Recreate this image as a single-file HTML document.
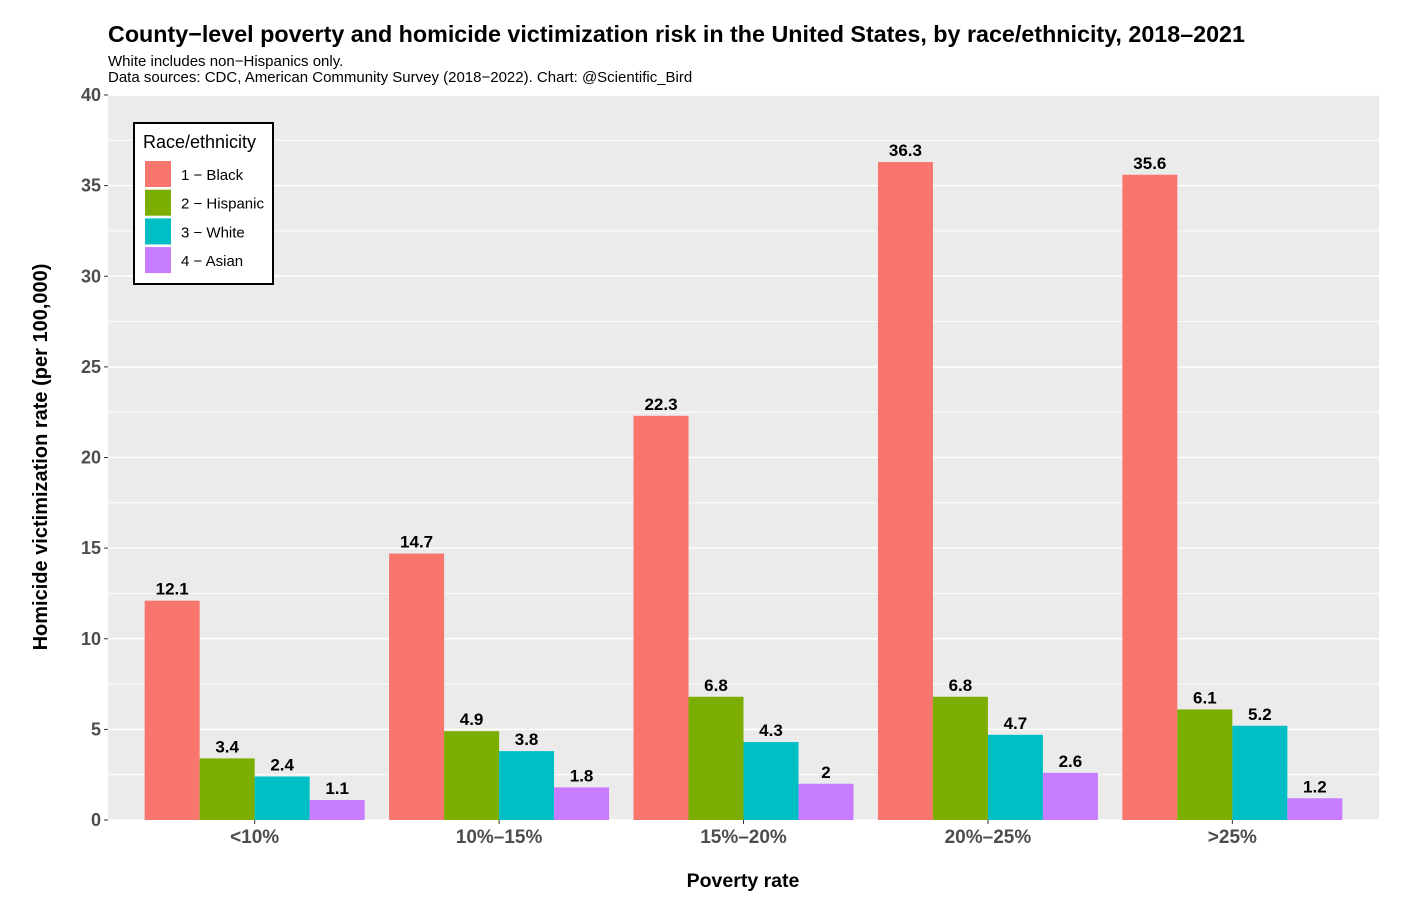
<!DOCTYPE html>
<html><head><meta charset="utf-8"><style>
body{margin:0;background:#fff;font-family:"Liberation Sans",Arial,sans-serif}
</style></head><body>
<svg id="chart" width="1416" height="913" xmlns="http://www.w3.org/2000/svg" font-family="Liberation Sans, Arial, sans-serif">
<text x="108" y="42" font-size="23.3" font-weight="bold" fill="#000">County−level poverty and homicide victimization risk in the United States, by race/ethnicity, 2018–2021</text>
<text x="108" y="66" font-size="15" fill="#000">White includes non−Hispanics only.</text>
<text x="108" y="82" font-size="15" fill="#000">Data sources: CDC, American Community Survey (2018−2022). Chart: @Scientific_Bird</text>
<rect x="108" y="95" width="1271" height="725" fill="#ebebeb"/>
<g id="grid"></g>
<g id="bars"></g>
<g id="yaxis"></g>
<g id="xaxis"></g>
<text transform="translate(47,457) rotate(-90)" text-anchor="middle" font-size="20" font-weight="bold">Homicide victimization rate (per 100,000)</text>
<text x="743" y="887" text-anchor="middle" font-size="19.5" font-weight="bold">Poverty rate</text>
<g>
<rect x="134" y="123" width="139" height="161" fill="#fff" stroke="#000" stroke-width="2"/>
<text x="143" y="148" font-size="18">Race/ethnicity</text>
<g id="legend-items"></g>
</g>
</svg>
<script>
const categories=["<10%","10%–15%","15%–20%","20%–25%",">25%"];
const seriesNames=["1 − Black","2 − Hispanic","3 − White","4 − Asian"];
const black=[12.1,14.7,22.3,36.3,35.6];
const hispanic=[3.4,4.9,6.8,6.8,6.1];
const white=[2.4,3.8,4.3,4.7,5.2];
const asian=[1.1,1.8,2,2.6,1.2];
const yTicks=[0,5,10,15,20,25,30,35,40];
const series=[black,hispanic,white,asian];
const colors=["#f8766d","#7cae00","#00bfc4","#c77cff"];
const NS="http://www.w3.org/2000/svg";
const X0=108,X1=1379,Y0=820,Y1=95,YMAX=40;
const y=v=>Y0-(v/YMAX)*(Y0-Y1);
const step=(X1-X0)/(categories.length+0.2);
const xc=i=>X0+step*(0.6+i);
const bw=step*0.9/series.length;
function mk(t,a,p){const e=document.createElementNS(NS,t);for(const k in a)e.setAttribute(k,a[k]);p.appendChild(e);return e;}
const grid=document.getElementById('grid');
for(let i=0;i<yTicks.length-1;i++){const m=(yTicks[i]+yTicks[i+1])/2;
const l=mk('line',{x1:X0,x2:X1,y1:y(m),y2:y(m),stroke:'#fff','stroke-width':0.8},grid);

}
const ya=document.getElementById('yaxis');
yTicks.forEach(t=>{const l=mk('line',{x1:X0,x2:X1,y1:y(t),y2:y(t),stroke:'#fff','stroke-width':1.6},grid);


mk('line',{x1:X0-4,x2:X0,y1:y(t),y2:y(t),stroke:'#333','stroke-width':1},ya);
const tx=mk('text',{x:X0-7,y:y(t)+6,'text-anchor':'end','font-size':18,'font-weight':'bold',fill:'#4d4d4d'},ya);tx.textContent=t;

});
const bars=document.getElementById('bars'),xa=document.getElementById('xaxis');
categories.forEach((c,i)=>{
 series.forEach((s,j)=>{const x=xc(i)-step*0.45+j*bw;
  const r=mk('rect',{x:x,y:y(s[i]),width:bw,height:Y0-y(s[i]),fill:colors[j]},bars);
  
  
  const t=mk('text',{x:x+bw/2,y:y(s[i])-6,'text-anchor':'middle','font-size':17,'font-weight':'bold',fill:'#000'},bars);t.textContent=s[i];
  
  });
 mk('line',{x1:xc(i),x2:xc(i),y1:Y0,y2:Y0+4,stroke:'#333','stroke-width':1},xa);
 const t=mk('text',{x:xc(i),y:843,'text-anchor':'middle','font-size':19,'font-weight':'bold',fill:'#4d4d4d'},xa);t.textContent=c;
 
 });
const lg=document.getElementById('legend-items');
seriesNames.forEach((n,j)=>{const yy=161+j*28.7;
 const r=mk('rect',{x:145,y:yy,width:26,height:26,fill:colors[j]},lg);
 
 
 const t=mk('text',{x:181,y:yy+19,'font-size':15},lg);t.textContent=n;
 
 });
</script>
</body></html>
